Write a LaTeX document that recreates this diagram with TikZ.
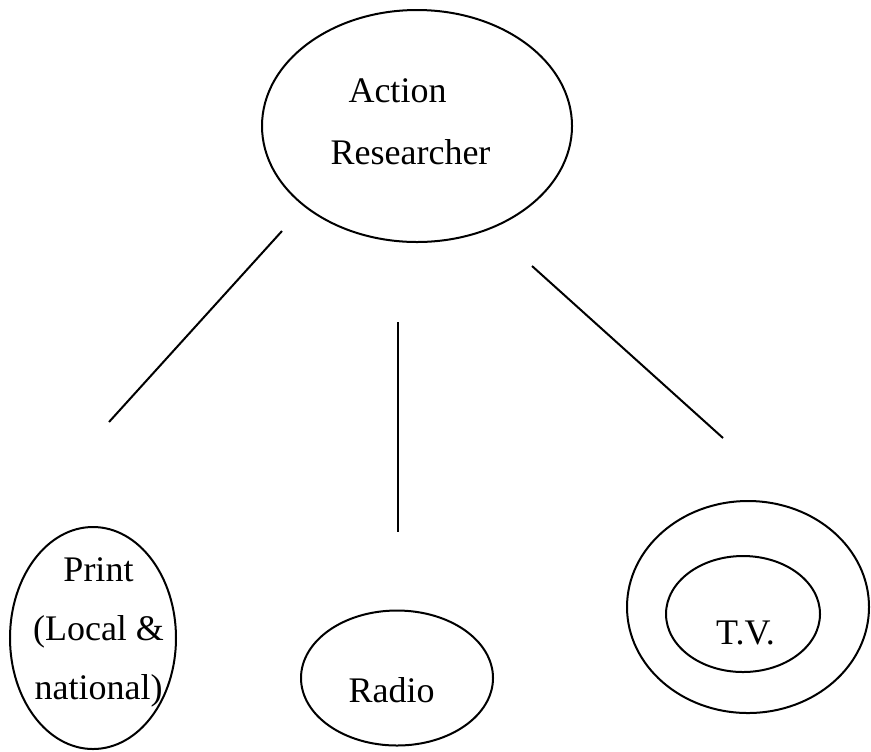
\documentclass[tikz,border=0pt]{standalone}
\usepackage{fontspec}
\setmainfont{Liberation Serif}
\usetikzlibrary{shapes.geometric}

\begin{document}
\begin{tikzpicture}[
  x=0.5pt, y=-0.5pt,
  font=\fontsize{18}{30}\selectfont,
  oval/.style={draw, ellipse, line width=1pt, inner sep=0pt},
  lbl/.style={align=center, inner sep=0pt},
  link/.style={line width=1pt}
]
\useasboundingbox (0,0) rectangle (871,751);

% researcher at the top
\node[oval, minimum width=155pt, minimum height=116pt] (ar) at (417,126) {};
\node[lbl, font=\fontsize{18}{31}\selectfont] (artxt) at (410.5,122) {Action\hspace*{13pt}\\Researcher};

% the three media
\node[oval, minimum width=83pt, minimum height=111pt] (print) at (93,638) {};
\node[lbl, font=\fontsize{18}{29.5}\selectfont] (printtxt) at (98.5,632) {Print\\(Local \&\\national)};

\node[oval, minimum width=96pt, minimum height=67.5pt] (radio) at (397,678) {};
\node[lbl, anchor=base] (radiotxt) at (391.5,702) {Radio};

\node[oval, minimum width=121pt, minimum height=106pt] (tv) at (748,607) {};
\node[oval, minimum width=77pt, minimum height=58pt] (tvin) at (743,614) {};
\node[lbl, anchor=base] (tvtxt) at (745.5,644) {T.V.};

% free standing links
\coordinate (l1) at (282,231);
\coordinate (l2) at (109,422);
\coordinate (m1) at (398,322);
\coordinate (m2) at (398,532);
\coordinate (r1) at (532,266);
\coordinate (r2) at (723,438);
\draw[link] (l1) -- (l2);
\draw[link] (m1) -- (m2);
\draw[link] (r1) -- (r2);
\end{tikzpicture}
\end{document}
